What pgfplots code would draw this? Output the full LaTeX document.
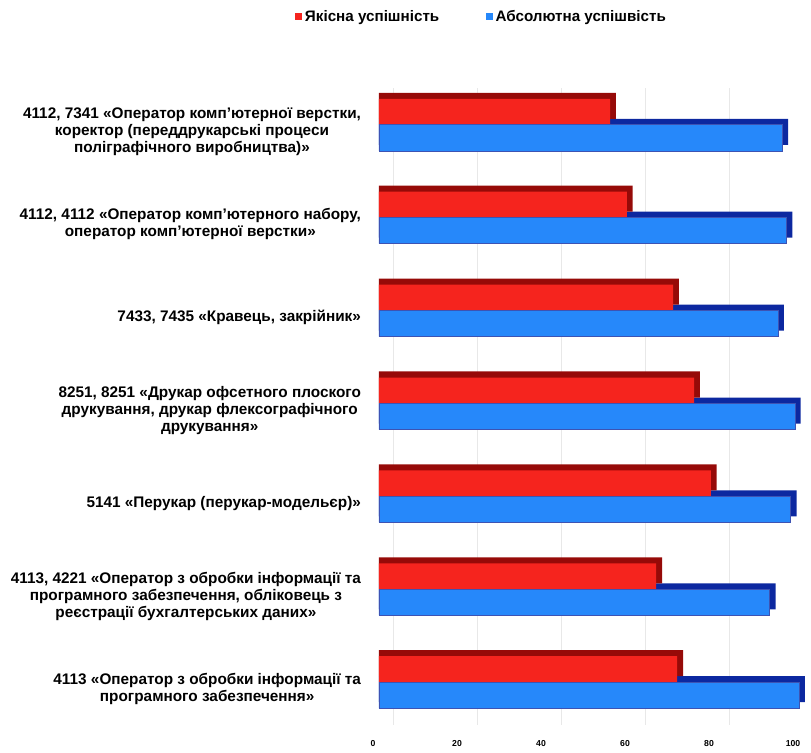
\documentclass[border=0pt]{standalone}
\usepackage{fontspec}
\setmainfont{Liberation Sans}
\usepackage{pgfplots}
\pgfplotsset{compat=1.18}
\usepackage{pgfplotstable}

\definecolor{redfront}{RGB}{245,36,30}
\definecolor{redtop}{RGB}{150,10,8}
\definecolor{bluefront}{RGB}{38,136,250}
\definecolor{bluetop}{RGB}{12,40,160}

% y = 6 is the top category
\pgfplotstableread{
pos red blue
6 55 96
5 59 97
4 70 95
3 75 99
2 79 98
1 66 93
0 71 100
}\results

\begin{document}
\begin{tikzpicture}
\begin{axis}[
    scale only axis,
    width=324.5pt,
    height=478pt,
    xbar,
    bar width=0.28,
    xmin=0, xmax=103,
    ymin=-0.46, ymax=6.4,
    xtick={0,20,40,60,80,100},
    ytick={0,1,2,3,4,5,6},
    yticklabels={
        {4113 «Оператор з обробки інформації та\\програмного забезпечення»},
        {4113, 4221 «Оператор з обробки інформації та\\програмного забезпечення, обліковець з\\реєстрації бухгалтерських даних»},
        {5141 «Перукар (перукар-модельєр)»},
        {8251, 8251 «Друкар офсетного плоского\\друкування, друкар флексографічного\\друкування»},
        {7433, 7435 «Кравець, закрійник»},
        {4112, 4112 «Оператор комп’ютерного набору,\\оператор комп’ютерної верстки»},
        {4112, 7341 «Оператор комп’ютерної верстки,\\коректор (переддрукарські процеси\\поліграфічного виробництва)»}
    },
    yticklabel style={align=center, font=\fontsize{11.5}{12.75}\selectfont\bfseries, xshift=-10pt, yshift=-5pt},
    xticklabel style={font=\fontsize{6.5}{8}\selectfont\bfseries, xshift=-4.5pt, yshift=-8pt},
    /pgf/number format/assume math mode=true,
    axis line style={draw=none},
    major tick length=0pt,
    xmajorgrids,
    grid style={black!9, line width=0.6pt, xshift=11pt},
    legend columns=2,
    legend style={at={(0.238,1.111)}, anchor=center, draw=none, fill=none,
        font=\fontsize{11.4}{13}\selectfont\bfseries,
        /tikz/every even column/.append style={column sep=33pt}},
    legend image code/.code={\fill[#1,draw=none] (0pt,-2.6pt) rectangle (5.2pt,2.6pt);},
]
% depth faces: the same bars pushed up and right, drawn behind
\addplot[fill=bluetop, draw=none, bar shift=-0.075, forget plot]
    table[y=pos, x expr=\thisrow{blue}+1.4] {\results};
\addplot[fill=redtop, draw=none, bar shift=0.205, forget plot]
    table[y=pos, x expr=\thisrow{red}+1.4] {\results};
% front faces
\addplot[fill=redfront, draw=none, bar shift=0.14]
    table[y=pos, x=red] {\results};
\addplot[fill=bluefront, draw=bluetop!80, line width=0.5pt, bar shift=-0.14]
    table[y=pos, x=blue] {\results};
\legend{Якісна успішність, Абсолютна успішвість}
\end{axis}
\pgfresetboundingbox
\path[use as bounding box] (current axis.south west) ++(-284.25pt,-21pt) rectangle ++(608.25pt,564.75pt);
\end{tikzpicture}
\end{document}
